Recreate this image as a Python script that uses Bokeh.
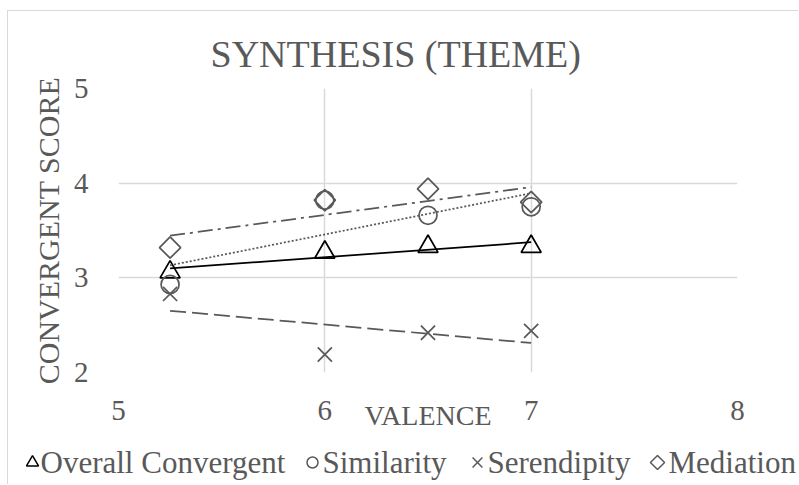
import numpy as np
from bokeh.plotting import figure
from bokeh.models import Range1d, FixedTicker
from bokeh.core.properties import value
from bokeh.embed import file_html
from bokeh.resources import INLINE

# ---- data ----
valence = [5.25, 6.0, 6.5, 7.0]
overall = [3.06, 3.27, 3.33, 3.33]
similarity = [2.93, 3.82, 3.66, 3.75]
serendipity = [2.83, 2.19, 2.42, 2.44]
mediation = [3.32, 3.82, 3.94, 3.80]
series_names = ["Overall Convergent", "Similarity", "Serendipity", "Mediation"]
x_ticks = [5, 6, 7, 8]
y_ticks = [2, 3, 4, 5]

FONT = "Liberation Serif"
GREY = "#595959"
GRID = "#d9d9d9"

p = figure(width=791, height=434, output_backend="svg", toolbar_location=None,
           x_range=Range1d(5, 8), y_range=Range1d(2, 5),
           min_border_left=110, min_border_right=62, min_border_top=77, min_border_bottom=73,
           styles={"margin-left": "7px", "margin-top": "10px",
                   "border-left": "1px solid #d9d9d9", "border-top": "1px solid #d9d9d9"})

p.title.text = "SYNTHESIS (THEME)"
p.title.align = "left"
p.title.offset = 92
p.title.standoff = 27
p.title.text_font = FONT
p.title.text_font_size = "38px"
p.title.text_font_style = "normal"
p.title.text_color = GREY

p.outline_line_color = None

for ax in (p.xaxis, p.yaxis):
    ax.axis_line_color = None
    ax.major_tick_line_color = None
    ax.minor_tick_line_color = None
    ax.major_tick_out = 0
    ax.major_tick_in = 0
    ax.minor_tick_out = 0
    ax.minor_tick_in = 0
    ax.major_label_text_font = FONT
    ax.major_label_text_font_size = "29px"
    ax.major_label_text_color = GREY

p.xaxis.ticker = FixedTicker(ticks=x_ticks)
p.yaxis.ticker = FixedTicker(ticks=y_ticks)
p.xaxis.major_label_standoff = 28
p.yaxis.major_label_standoff = 30

p.yaxis.axis_label = "CONVERGENT SCORE"
p.yaxis.axis_label_standoff = 6
p.yaxis.axis_label_text_font_size = "30px"
p.xaxis.axis_label = "VALENCE"
p.xaxis.axis_label_standoff = -23
p.xaxis.axis_label_text_font_size = "28px"
for ax in (p.xaxis, p.yaxis):
    ax.axis_label_text_font = FONT
    ax.axis_label_text_font_style = "normal"
    ax.axis_label_text_color = GREY

p.xgrid.grid_line_color = GRID
p.ygrid.grid_line_color = GRID
p.xgrid.grid_line_width = 1.5
p.ygrid.grid_line_width = 1.5

series = [overall, similarity, serendipity, mediation]
colors = ["black", GREY, GREY, GREY]
dashes = ["solid", "2 2", "16 6", "15 5 3 5"]
markers = ["triangle", "circle", "x", "square"]
sizes = [20, 18, 20, 15]
angles = [0, 0, 0, np.pi / 4]
xs = np.array(valence)

for ys, c, d, m, s, a in zip(series, colors, dashes, markers, sizes, angles):
    k, b = np.polyfit(xs, np.array(ys), 1)
    xl = [xs.min(), xs.max()]
    p.line(xl, [k * xl[0] + b, k * xl[1] + b], line_color=c, line_dash=d, line_width=1.75)
    p.scatter(valence, ys, marker=m, size=s, angle=a, fill_color=None,
              line_color=c, line_width=1.75)

# ---- legend strip underneath the chart (pixel coordinates of the strip) ----
lg = figure(width=791, height=40, output_backend="svg", toolbar_location=None,
            x_range=Range1d(8, 799), y_range=Range1d(0, 40),
            x_axis_type=None, y_axis_type=None, min_border=0,
            styles={"margin-left": "7px", "border-left": "1px solid #d9d9d9"})
lg.outline_line_color = None
lg.xgrid.visible = False
lg.ygrid.visible = False

key_x = [32, 312, 477, 657]
label_x = [40, 322, 487, 668]
key_sizes = [12, 11, 14, 10]
row_y = 22
for name, c, m, s, a, kx, lx in zip(series_names, colors, markers, key_sizes, angles,
                                    key_x, label_x):
    lg.scatter([kx], [row_y], marker=m, size=s, angle=a, fill_color=None,
               line_color=c, line_width=1.5)
    lg.text([lx], [row_y], text=[name], text_font=value(FONT), text_font_size="31px",
            text_color=GREY, text_align="left", text_baseline="middle")

open("out.html", "w").write(file_html([p, lg], INLINE))
